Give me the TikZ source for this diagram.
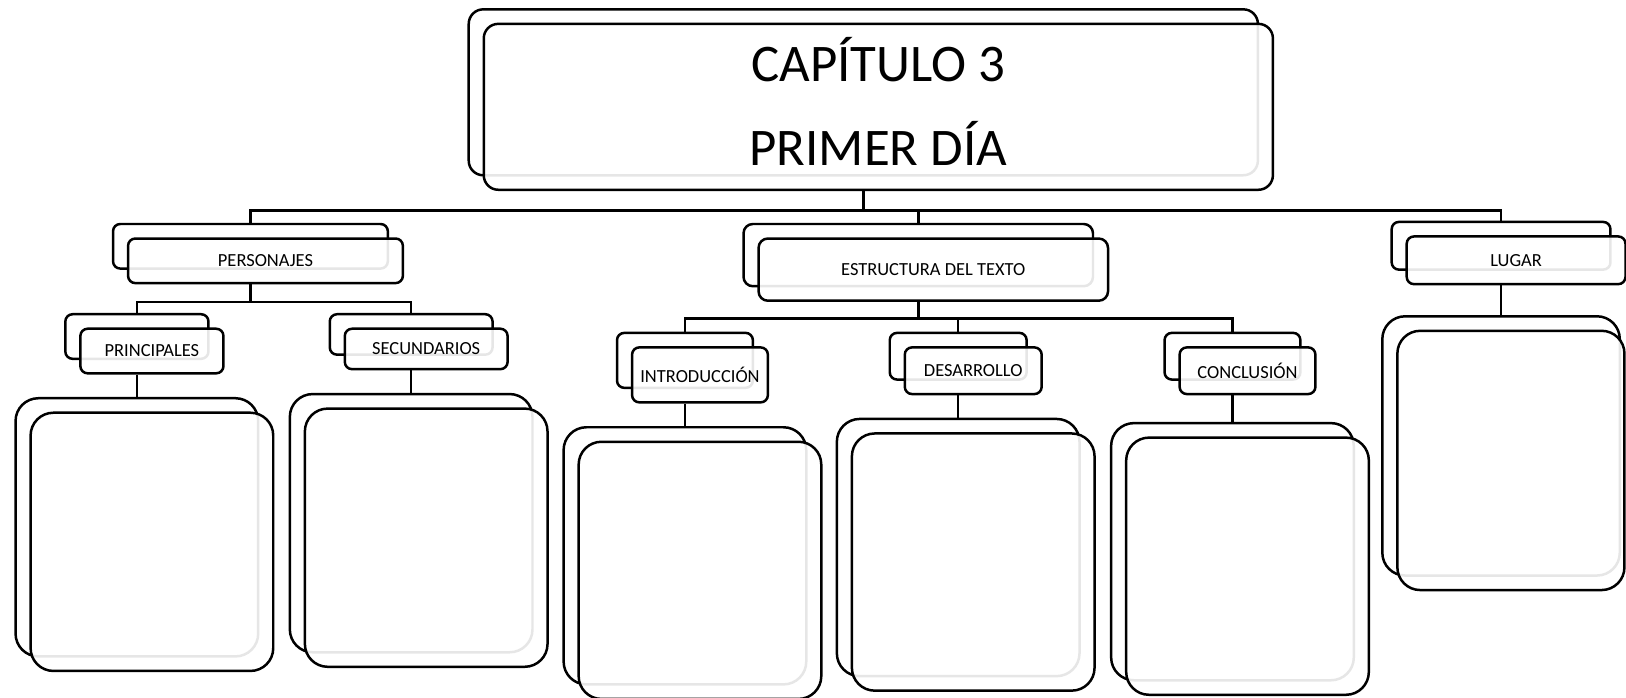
\documentclass[tikz,border=0pt]{standalone}
\usepackage{fontspec}
\setmainfont{Carlito}

\begin{document}
\begin{tikzpicture}[x=1pt,y=-1pt,
  fondo/.style={draw,line width=2.4pt,fill=white,rounded corners=#1,inner sep=0pt},
  fondo/.default=7pt,
  frente/.style={fondo=#1,fill opacity=0.9,text opacity=1,font=\fontsize{17.8}{20}\selectfont},
  frente/.default=7pt,
  linea/.style={line width=2.4pt}]

\useasboundingbox (0,0) rectangle (1568,673);

% 标题框
\node[fondo=14pt,minimum width=761pt,minimum height=160pt] (capB) at (832.5,89) {};
\node[frente=14pt,minimum width=761pt,minimum height=160pt,align=center,text depth=10pt,
      font=\fontsize{51}{81}\selectfont] (capF) at (847,103) {CAPÍTULO 3\\PRIMER DÍA};

% 第一层
\node[fondo,minimum width=265pt,minimum height=43pt] (persB) at (241.5,237.5) {};
\node[frente,minimum width=265pt,minimum height=43pt] (persF) at (256,251.5) {PERSONAJES};

\node[fondo=9pt,minimum width=337pt,minimum height=60pt] (estB) at (885.5,246) {};
\node[frente=9pt,minimum width=337pt,minimum height=60pt] (estF) at (900,260) {ESTRUCTURA DEL TEXTO};

\node[fondo,minimum width=211pt,minimum height=46pt] (lugB) at (1447.5,237) {};
\node[frente,minimum width=211pt,minimum height=46pt] (lugF) at (1462,251) {LUGAR};

% 第二层
\node[fondo,minimum width=138pt,minimum height=43pt] (prinB) at (132,324.5) {};
\node[frente,minimum width=138pt,minimum height=43pt] (prinF) at (146.5,338.5) {PRINCIPALES};

\node[fondo,minimum width=157pt,minimum height=39pt] (secB) at (396.5,322.5) {};
\node[frente,minimum width=157pt,minimum height=39pt] (secF) at (411,336.5) {SECUNDARIOS};

\node[fondo,minimum width=131pt,minimum height=53pt] (intB) at (660.5,347.5) {};
\node[frente,minimum width=131pt,minimum height=53pt] (intF) at (675,361.5) {INTRODUCCIÓN};

\node[fondo,minimum width=132pt,minimum height=45pt] (desB) at (924,343.5) {};
\node[frente,minimum width=132pt,minimum height=45pt] (desF) at (938.5,357.5) {DESARROLLO};

\node[fondo,minimum width=131pt,minimum height=45pt] (conB) at (1188.5,343.5) {};
\node[frente,minimum width=131pt,minimum height=45pt] (conF) at (1203,357.5) {CONCLUSIÓN};

% 空白框
\node[fondo=22pt,minimum width=234pt,minimum height=249pt] (prinCB) at (132,508.5) {};
\node[frente=22pt,minimum width=234pt,minimum height=249pt] (prinCF) at (146.5,522.5) {};

\node[fondo=22pt,minimum width=234pt,minimum height=249pt] (secCB) at (396.5,504.5) {};
\node[frente=22pt,minimum width=234pt,minimum height=249pt] (secCF) at (411,518.5) {};

\node[fondo=22pt,minimum width=234pt,minimum height=248pt] (intCB) at (660.5,536) {};
\node[frente=22pt,minimum width=234pt,minimum height=248pt] (intCF) at (675,550) {};

\node[fondo=22pt,minimum width=234pt,minimum height=248pt] (desCB) at (924,528) {};
\node[frente=22pt,minimum width=234pt,minimum height=248pt] (desCF) at (938.5,542) {};

\node[fondo=22pt,minimum width=234pt,minimum height=248pt] (conCB) at (1188.5,532) {};
\node[frente=22pt,minimum width=234pt,minimum height=248pt] (conCF) at (1203,546) {};

\node[fondo=22pt,minimum width=229pt,minimum height=250pt] (lugCB) at (1447.5,430) {};
\node[frente=22pt,minimum width=219pt,minimum height=250pt] (lugCF) at (1457,444) {};

% 连线
\coordinate (bus0) at (0,203);
\coordinate (bus1) at (0,291);
\coordinate (bus2) at (0,307);

\draw[linea] (capB |- capF.south) -- (capB |- bus0) -| (persB.north);
\draw[linea] (capB |- bus0) -| (estB.north);
\draw[linea] (capB |- bus0) -| (lugB.north);

\draw[linea] (persB |- persF.south) -- (persB |- bus1) -| (prinB.north);
\draw[linea] (persB |- bus1) -| (secB.north);

\draw[linea] (estB |- estF.south) -- (estB |- bus2) -| (intB.north);
\draw[linea] (estB |- bus2) -| (desB.north);
\draw[linea] (estB |- bus2) -| (conB.north);

\draw[linea] (prinB |- prinF.south) -- (prinCB.north);
\draw[linea] (secB |- secF.south) -- (secCB.north);
\draw[linea] (intB |- intF.south) -- (intCB.north);
\draw[linea] (desB |- desF.south) -- (desCB.north);
\draw[linea] (conB |- conF.south) -- (conCB.north);
\draw[linea] (lugB |- lugF.south) -- (lugCB.north);

\end{tikzpicture}
\end{document}
